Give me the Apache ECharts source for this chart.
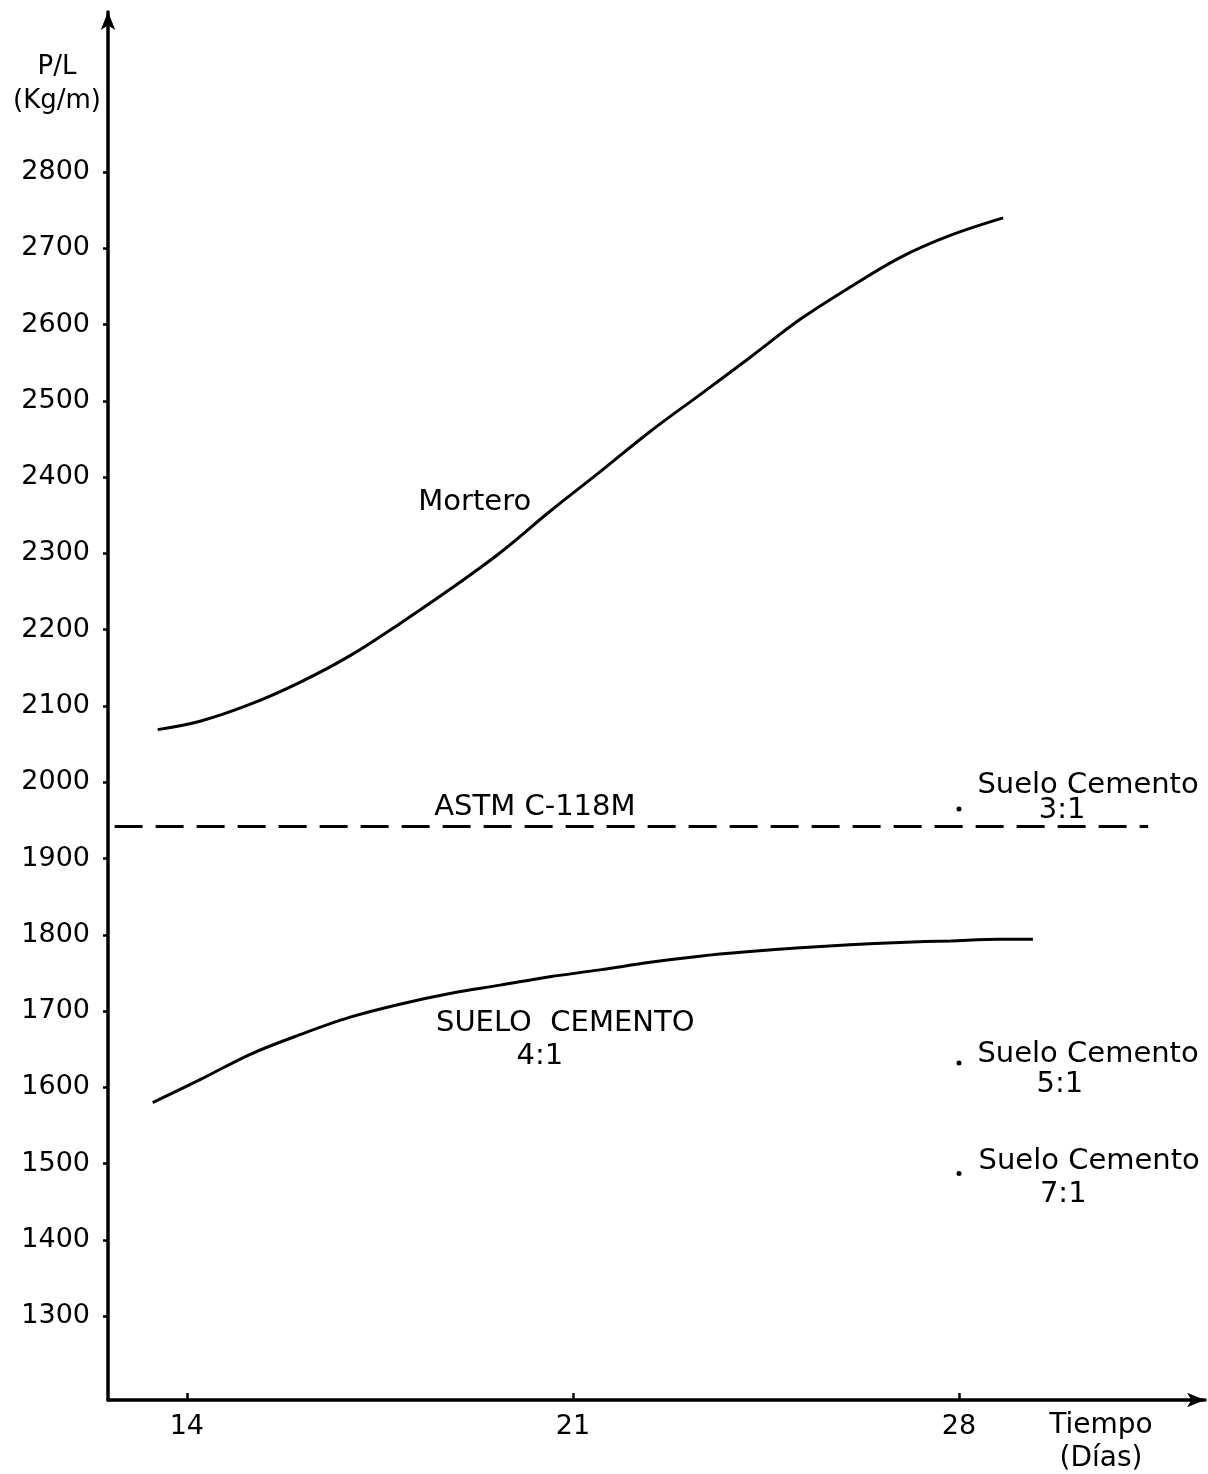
<!DOCTYPE html>
<html>
<head>
<meta charset="utf-8">
<script src="https://cdn.jsdelivr.net/npm/echarts@6/dist/echarts.min.js"></script>
<style>
html,body{margin:0;padding:0;background:#fff;}
#chart{width:1208px;height:1474px;}
</style>
</head>
<body>
<div id="chart"></div>
<script>
// ---- data ----
const xTicks = [14, 21, 28];
const yTicks = [1300, 1400, 1500, 1600, 1700, 1800, 1900, 2000, 2100, 2200, 2300, 2400, 2500, 2600, 2700, 2800];

const morteroDays = [13.47, 14.24, 15.14, 16.05, 16.96, 17.86, 18.77, 19.68, 20.58, 21.49, 22.40, 23.30, 24.21, 25.12, 26.02, 26.93, 27.84, 28.80];
const morteroVals = [2069, 2080, 2102, 2131, 2166, 2208, 2253, 2301, 2355, 2407, 2460, 2508, 2557, 2607, 2649, 2688, 2717, 2740];

const sc41Days = [13.38, 14.24, 15.14, 16.05, 16.96, 17.86, 18.77, 19.68, 20.58, 21.49, 22.40, 23.30, 24.21, 25.12, 26.02, 26.93, 27.84, 28.74, 29.34];
const sc41Vals = [1580, 1610, 1643, 1669, 1692, 1709, 1723, 1734, 1745, 1754, 1764, 1772, 1778, 1783, 1787, 1790, 1792, 1794, 1794];

const astmDays = [12.69, 31.43];
const astmVal = 1942;

const pointDays = [28, 28, 28];
const pointVals = [1965, 1632, 1487]; // Suelo Cemento 3:1, 5:1, 7:1

const noteText = ['Mortero', 'ASTM C-118M', 'SUELO  CEMENTO', '4:1', 'Suelo Cemento', '3:1', 'Suelo Cemento', '5:1', 'Suelo Cemento', '7:1'];
const noteDays = [19.22, 20.31, 20.86, 20.40, 30.34, 29.87, 30.34, 29.83, 30.36, 29.89];
const noteVals = [2367, 1967, 1684, 1640, 1996, 1963, 1643, 1604, 1503, 1459];

// ---- chart ----
const FONT = 'DejaVu Sans';
const zip = (xs, ys) => xs.map((x, i) => [x, ys[i]]);

const chart = echarts.init(document.getElementById('chart'), null, {renderer: 'canvas'});
chart.setOption({
  backgroundColor: '#ffffff',
  animation: false,
  grid: {left: 108, right: 3, top: 12, bottom: 74, containLabel: false, outerBoundsMode: 'none'},
  xAxis: {
    type: 'value', min: 12.57, max: 32.46,
    name: 'Tiempo\n(Días)', nameLocation: 'end', nameGap: -104,
    nameTextStyle: {fontFamily: FONT, fontSize: 28, color: '#000', align: 'center', verticalAlign: 'top', lineHeight: 33, padding: [9, 0, 0, 0]},
    axisLine: {show: true, onZero: false, symbol: ['none', 'arrow'], symbolSize: [11, 18], lineStyle: {color: '#000', width: 3.5}},
    axisTick: {show: true, inside: true, length: 7, customValues: xTicks, lineStyle: {color: '#000', width: 2.5}},
    axisLabel: {show: true, customValues: xTicks, margin: 13, fontFamily: FONT, fontSize: 27, color: '#000', formatter: v => String(v)},
    splitLine: {show: false}
  },
  yAxis: {
    type: 'value', min: 1190, max: 3010,
    name: 'P/L\n(Kg/m)', nameLocation: 'end', nameGap: -38,
    nameTextStyle: {fontFamily: FONT, fontSize: 26, color: '#000', align: 'center', verticalAlign: 'top', lineHeight: 34, padding: [0, 102, 0, 0]},
    axisLine: {show: true, onZero: false, symbol: ['none', 'arrow'], symbolSize: [11, 18], lineStyle: {color: '#000', width: 3.5}},
    axisTick: {show: true, inside: false, length: 5, customValues: yTicks, lineStyle: {color: '#000', width: 2.5}},
    axisLabel: {show: true, customValues: yTicks, margin: 18, fontFamily: FONT, fontSize: 27, color: '#000', formatter: v => String(v)},
    splitLine: {show: false}
  },
  series: [
    {
      name: 'Mortero', type: 'line', data: zip(morteroDays, morteroVals),
      smooth: 0.35, showSymbol: false, lineStyle: {color: '#000', width: 3}
    },
    {
      name: 'Suelo Cemento 4:1', type: 'line', data: zip(sc41Days, sc41Vals),
      smooth: 0.35, showSymbol: false, lineStyle: {color: '#000', width: 3}
    },
    {
      name: 'ASTM C-118M', type: 'line', data: astmDays.map(d => [d, astmVal]),
      showSymbol: false, lineStyle: {color: '#000', width: 2.8, type: [28, 13]}
    },
    {
      name: 'Puntos', type: 'scatter', data: zip(pointDays, pointVals),
      symbol: 'circle', symbolSize: 5, itemStyle: {color: '#000', opacity: 1}
    },
    {
      name: 'Notas', type: 'scatter', clip: false, symbol: 'circle', symbolSize: 1,
      itemStyle: {color: '#000', opacity: 0},
      data: noteText.map((t, i) => ({value: [noteDays[i], noteVals[i]], name: t})),
      label: {
        show: true, position: 'inside', formatter: p => p.name,
        fontFamily: FONT, fontSize: 29, color: '#000', opacity: 1,
        textBorderWidth: 0, textShadowBlur: 0,
        align: 'center', verticalAlign: 'middle'
      },
      silent: true
    }
  ]
});
</script>
</body>
</html>
